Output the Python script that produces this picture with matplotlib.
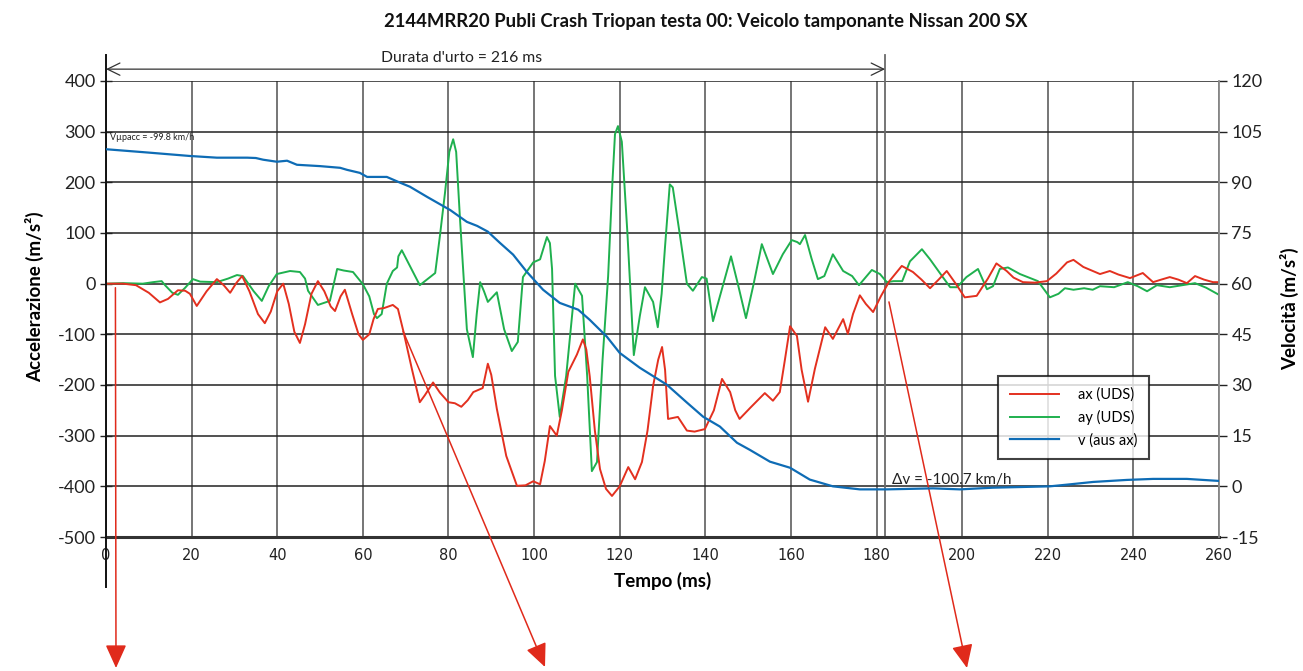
import matplotlib
matplotlib.use("Agg")
import matplotlib.pyplot as plt

plt.rcParams['font.family'] = ['Lato', 'DejaVu Sans']
plt.rcParams['axes.unicode_minus'] = False

# --- data -------------------------------------------------------------
ax_t = [0, 4, 7, 10, 12.6, 14.5, 16.8, 18.5, 19.6, 21.2, 23.5, 25.9, 27.5, 29, 30.5, 31.8,
        33.5, 35.5, 37.1, 38.5, 40, 41.4, 42.7, 44, 45.3, 46.5, 48, 49.5, 51, 52.5, 53.5,
        54.8, 55.8, 57.5, 59, 60, 61.5, 62.5, 63.5, 65, 67, 68.2, 69.5, 71.5, 73.3, 74.5,
        76.4, 78, 80, 81.5, 83, 84.5, 85.8, 88, 89.2, 90, 91.3, 93.5, 96, 98, 99.8, 101.4,
        102.5, 103.7, 105.3, 106.5, 108, 110, 111.4, 112.2, 113, 114.2, 115.4, 116.8, 118.2,
        120, 122, 123.6, 125.2, 126.5, 127.8, 129, 129.9, 130.6, 131.3, 133.6, 135.7, 137.5,
        139.9, 142, 143.9, 145.8, 147, 148, 150.5, 153.9, 155.8, 157.4, 158.6, 159.8, 161.4,
        162.5, 164, 165.6, 168, 169.8, 172.2, 173.3, 174.5, 176.1, 177.5, 179.2, 181, 183,
        185.9, 188.5, 190.5, 192.5, 194.5, 196.4, 198.5, 200.6, 203.4, 206, 208, 210.4, 212,
        214.2, 217, 219.8, 222, 224.5, 226, 228.3, 230, 232.2, 234.5, 236.5, 239.2, 242.2,
        244.6, 246.5, 248.5, 250.5, 252.5, 254.4, 256.5, 258.6, 260]
ax_val = [0, 0, -3, -18, -37, -30, -13, -14, -20, -44, -15, 9, -3, -18, 2, 15,
          -15, -60, -78, -55, -15, 0, -40, -95, -117, -80, -20, 5, -15, -45, -54,
          -25, -12, -60, -100, -111, -100, -70, -50, -48, -42, -50, -95, -170, -234, -220,
          -195, -215, -234, -236, -243, -230, -214, -206, -158, -180, -247, -340, -399, -398, -390, -396,
          -350, -281, -300, -250, -174, -140, -110, -130, -183, -290, -366, -405, -419,
          -400, -362, -386, -352, -290, -202, -150, -125, -170, -267, -263, -290, -292,
          -287, -250, -188, -214, -250, -267, -245, -216, -231, -214, -150, -84, -103,
          -170, -233, -168, -86, -109, -70, -99, -60, -23, -40, -56, -25, 5,
          35, 23, 8, -9, 8, 25, 0, -27, -24, 10, 40, 25, 12,
          3, 2, 5, 20, 42, 47, 33, 27, 19, 25, 18, 11, 21,
          3, 8, 13, 8, 1, 15, 8, 3, 3]

ay_t = [0, 4, 8.6, 11, 13, 13.9, 15.5, 16.8, 18.5, 20.3, 22, 25.9, 28.5, 30.6, 32, 34.5,
        36.4, 38, 39.9, 43, 45.3, 46.5, 47.2, 49.5, 52.3, 54, 55.5, 57.7, 60, 61.5, 62.6,
        63.3, 64.4, 65.6, 67, 68, 68.3, 69.1, 71, 73.3, 76.9, 78, 79.2, 80.2, 81.1, 81.8,
        82.7, 84.3, 85.7, 86.6, 87.4, 88.3, 89.2, 91.3, 93, 94.8, 96.2, 97.4, 99.8, 101.4,
        103, 103.7, 104.2, 104.9, 106, 107.5, 109.6, 111.2, 112.4, 113.5, 114.7, 116, 117.3,
        118.3, 118.9, 119.6, 120.5, 121.8, 123.3, 124.7, 125.9, 127.8, 128.9, 129.8, 130.6,
        131.7, 132.4, 134.1, 135.7, 137.1, 139.2, 140.3, 141.8, 143.9, 146, 147.7, 149.5,
        151.3, 153.2, 155.8, 158.1, 160.2, 161.5, 162.1, 163.3, 164.8, 166.3, 167.8, 169.8,
        172.2, 174.3, 175.9, 178.9, 180.8, 182.4, 184, 186, 187.8, 190.6, 192.5, 195.3,
        197.2, 198.8, 201, 203.7, 205.8, 207.2, 208.8, 210.7, 213.5, 217.7, 220.5, 222.5,
        224, 226, 228.5, 230.5, 232.2, 235.5, 238.7, 241, 243.2, 245.5, 248.5, 251.5,
        254.4, 257, 260]
ay_val = [0, 1, 0, 3, 5, -4, -18, -22, -8, 9, 4, 3, 10, 17, 15, -15,
          -34, -5, 19, 25, 23, 10, -14, -42, -34, 29, 26, 23, -1, -25, -60,
          -68, -60, 0, 25, 32, 54, 66, 35, -3, 21, 94, 180, 260, 285, 260,
          127, -90, -145, -60, 3, -15, -36, -17, -90, -133, -115, 13, 42, 48,
          92, 80, 29, -182, -263, -182, 0, -24, -182, -370, -352, -150, 15,
          200, 295, 311, 280, 100, -141, -64, -7, -36, -86, -20, 74,
          196, 190, 94, 0, -14, 13, 10, -74, -10, 54, -4, -68,
          0, 78, 19, 58, 86, 82, 78, 96, 50, 9, 15, 58,
          25, 15, -3, 27, 19, 3, 5, 5, 44, 68, 48, 15,
          -7, -7, 13, 29, -11, -5, 29, 32, 19, 5, -27, -20,
          -9, -12, -9, -12, -5, -7, 3, -5, -15, -3, -7, -3,
          1, -8, -22]

v_t = [0, 10, 19.6, 25.9, 33, 35, 36.7, 39.9, 42.3, 44.6, 50, 54.7, 56.3, 59.3, 61, 65.6,
       68.7, 71, 75, 80.4, 84.3, 86.7, 89.2, 92, 95.1, 98.3, 102.1, 106, 110.3, 113, 117,
       120, 124.7, 131, 135.7, 139.5, 143.4, 147.4, 150.4, 155.1, 159.8, 164.4, 169.8,
       176.1, 182.4, 193.2, 199.5, 207.2, 220.5, 224.5, 230.6, 238.5, 244.6, 252.5, 260]
v_val = [99.8, 98.8, 97.8, 97.3, 97.3, 97.2, 96.7, 96.1, 96.4, 95.2, 94.8, 94.3, 93.7, 92.8, 91.6, 91.6,
         89.9, 88.7, 85.7, 81.8, 78.3, 77.1, 75.4, 72.1, 68.6, 63.5, 58.2, 54.3, 52.3, 49.3, 44.3,
         39.5, 35.1, 30.1, 24.8, 20.6, 17.7, 12.9, 10.8, 7.3, 5.5, 2.0, 0.0,
         -0.9, -0.9, -0.6, -0.9, -0.4, 0.0, 0.5, 1.3, 1.9, 2.2, 2.2, 1.6]

acc_ticks = list(range(-500, 401, 100))
vel_ticks = list(range(-15, 121, 15))
time_ticks = list(range(0, 261, 20))

impact_end = 182          # ms, end of the contact phase
duration_label = "Durata d'urto = 216 ms"
v_start_label = "Vµpacc = -99.8 km/h"
dv_label = "Δv = -100.7 km/h"

RED = '#e3301f'
GREEN = '#1fb04e'
BLUE = '#0e6cb5'

# --- figure -----------------------------------------------------------
fig = plt.figure(figsize=(13.03, 6.71), dpi=100)
ax = fig.add_axes([106 / 1303, 1 - 537 / 671, (1219 - 106) / 1303, (537 - 81) / 671])
ax2 = ax.twinx()

ax.set_xlim(0, 260)
ax.set_ylim(-500, 400)
ax2.set_ylim(-15, 120)

ax.set_xticks(time_ticks)
ax.set_yticks(acc_ticks)
ax2.set_yticks(vel_ticks)

# grid: vertical grey, horizontal near black
for t in time_ticks:
    ax.axvline(t, color='#6a6a6a', lw=1.3, zorder=0)
for a in acc_ticks:
    ax.axhline(a, color='#222222', lw=1.1, zorder=0)
ax.axvline(impact_end, color='#6a6a6a', lw=1.3, zorder=0)
ax.plot([impact_end, impact_end], [1.0, 1.057], color='#6a6a6a', lw=1.3,
        transform=ax.get_xaxis_transform(), clip_on=False)

l1, = ax.plot(ax_t, ax_val, color=RED, lw=1.4, zorder=3, label='ax (UDS)')
l2, = ax.plot(ay_t, ay_val, color=GREEN, lw=1.4, zorder=2, label='ay (UDS)')
l3, = ax2.plot(v_t, v_val, color=BLUE, lw=1.6, zorder=3, label='v (aus ax)')

# spines
ax.spines['top'].set_visible(False)
ax2.spines['top'].set_visible(False)
ax2.spines['left'].set_visible(False)
ax2.spines['bottom'].set_visible(False)
ax.spines['right'].set_visible(False)
ax.spines['left'].set_visible(False)
ax2.spines['right'].set_color('#888888')
ax2.spines['right'].set_linewidth(1.3)
ax.spines['bottom'].set_color('#333333')
ax.spines['bottom'].set_linewidth(2.2)
# left axis line, extended above and below the plot
ax.plot([0, 0], [-0.110, 1.057], color='#111111', lw=1.4,
        transform=ax.get_xaxis_transform(), clip_on=False, zorder=5)

ax.tick_params(axis='y', direction='inout', length=9, width=1.0, labelsize=13,
               colors='#222222', pad=3)
ax.tick_params(axis='x', length=0, labelsize=10.5, pad=8, colors='#222222')
ax2.tick_params(axis='y', direction='out', length=6, width=1.0, labelsize=13,
                colors='#222222', pad=3)
for lab in ax.get_xticklabels():
    lab.set_family(['Liberation Sans Narrow', 'DejaVu Sans'])

ax.set_xlabel('Tempo (ms)', fontsize=13.5, fontweight='bold', labelpad=6)
fig.text(35 / 1303, 1 - 297 / 671, 'Accelerazione (m/s²)', rotation=90, fontsize=13.5,
         fontweight='bold', ha='center', va='center')
fig.text(1290 / 1303, 1 - 309 / 671, 'Velocità (m/s²)', rotation=90, fontsize=13.5,
         fontweight='bold', ha='center', va='center')

fig.text(706 / 1303, 1 - 22 / 671,
         '2144MRR20 Publi Crash Triopan testa 00: Veicolo tamponante Nissan 200 SX',
         fontsize=13.3, fontweight='bold', ha='center', va='center', color='#111111')

# impact duration marker
ax.annotate('', xy=(0, 1.026), xytext=(impact_end, 1.026),
            xycoords=ax.get_xaxis_transform(), textcoords=ax.get_xaxis_transform(),
            arrowprops=dict(arrowstyle='<->,head_length=0.45,head_width=0.22',
                            mutation_scale=20, color='#333333', lw=0.9,
                            shrinkA=0, shrinkB=0), annotation_clip=False)
ax.text(83, 1.050, duration_label, transform=ax.get_xaxis_transform(), fontsize=11.3,
        ha='center', va='center', color='#222222')

ax2.text(1.0, 101.8, v_start_label, fontsize=6.5, ha='left', va='bottom', color='#222222')
ax2.text(183.5, -0.1, dv_label, fontsize=11, ha='left', va='bottom', color='#222222')

leg = ax2.legend(handles=[l1, l2, l3], loc='upper left', bbox_to_anchor=(0.8014, 0.353),
                 fontsize=10.5, frameon=True, fancybox=False, handlelength=3.4,
                 handletextpad=1.3, borderpad=0.8, labelspacing=0.55, borderaxespad=0)
leg.get_frame().set_edgecolor('#111111')
leg.get_frame().set_linewidth(1.5)
leg.set_zorder(10)

# red pointer arrows running down out of the plot
pointers = [((2.2, -8), (116 / 1303, 1 - 668 / 671)),
            ((69.4, -94), (545 / 1303, 1 - 667 / 671)),
            ((182.9, -36), (967 / 1303, 1 - 668 / 671))]
for start, end in pointers:
    ax.annotate('', xy=end, xycoords='figure fraction', xytext=start, textcoords='data',
                arrowprops=dict(arrowstyle='-|>,head_length=0.4,head_width=0.18',
                                mutation_scale=36, color='#e02a1b', lw=1.1,
                                shrinkA=0, shrinkB=0),
                annotation_clip=False, zorder=6)

fig.savefig('out.png', dpi=100)
